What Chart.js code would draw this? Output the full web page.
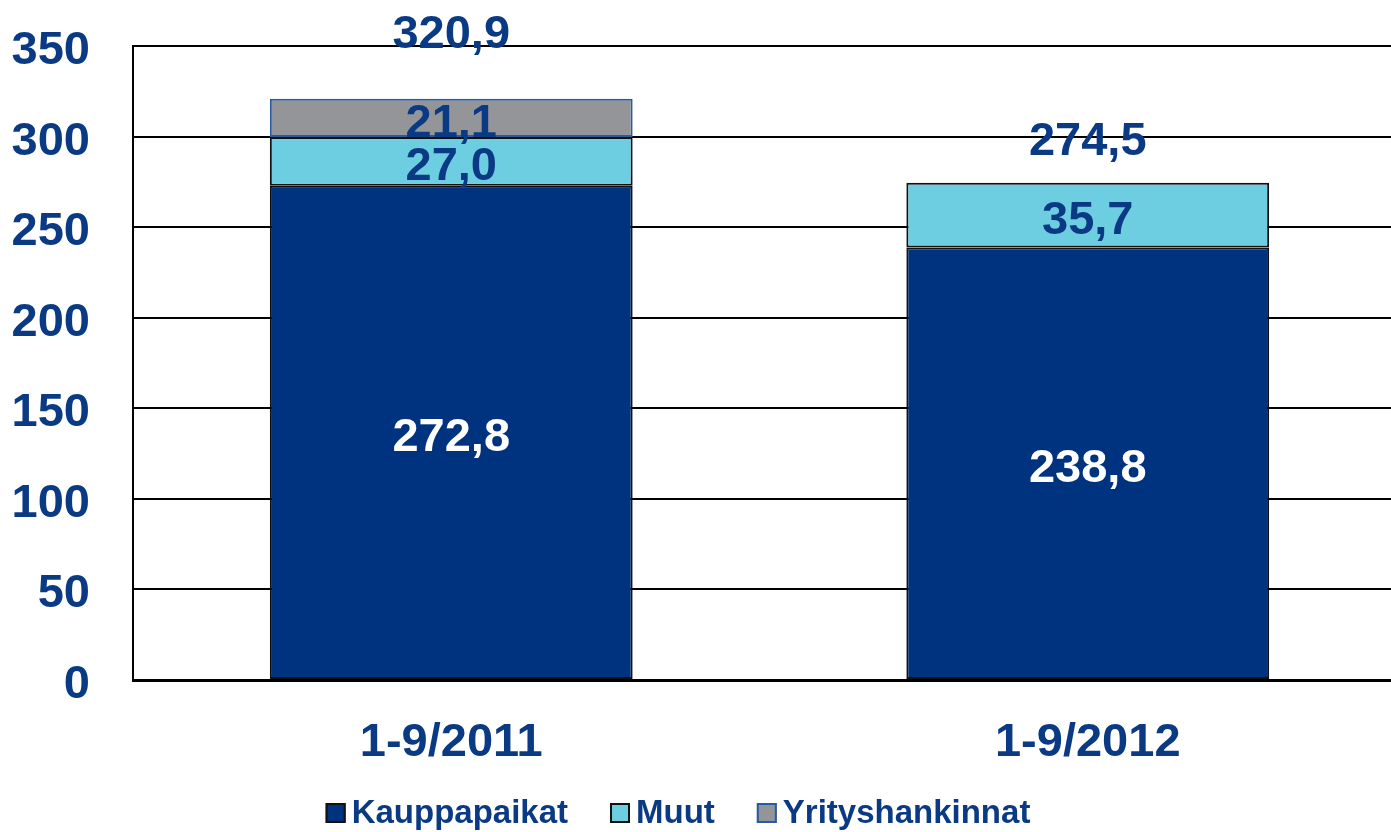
<!DOCTYPE html>
<html>
<head>
<meta charset="utf-8">
<script src="https://cdn.jsdelivr.net/npm/chart.js@4.4.1/dist/chart.umd.min.js"></script>
<style>
  html, body { margin: 0; padding: 0; background: #fff; overflow: hidden; }
</style>
</head>
<body>
<canvas id="chart" width="1406" height="832"></canvas>
<script>
// Data
const categories = ['1-9/2011', '1-9/2012'];
const kauppapaikat = [272.8, 238.8];
const muut = [27.0, 35.7];
const yrityshankinnat = [21.1, null];
const yTicks = [0, 50, 100, 150, 200, 250, 300, 350];

const textBlue = '#0B3A84';
const fontFamily = '"Liberation Sans", Arial, sans-serif';
// how far above the bar top each total sits
const totalOffsets = [64, 41];

const fmt = v => v.toFixed(1).replace('.', ',');

// Values inside segments + totals above the bars
const barLabels = {
  id: 'barLabels',
  afterDatasetsDraw(chart) {
    const ctx = chart.ctx;
    ctx.save();
    ctx.font = 'bold 47px ' + fontFamily;
    ctx.textAlign = 'center';
    ctx.textBaseline = 'middle';

    chart.data.datasets.forEach((ds, i) => {
      chart.getDatasetMeta(i).data.forEach((bar, j) => {
        const v = ds.data[j];
        if (v == null) return;
        const p = bar.getProps(['x', 'y', 'base'], true);
        ctx.fillStyle = i === 0 ? '#fff' : textBlue;
        ctx.fillText(fmt(v), p.x, (p.y + p.base) / 2 + 6);
      });
    });

    const xs = chart.scales.x, ys = chart.scales.y;
    categories.forEach((c, j) => {
      const total = chart.data.datasets.reduce((s, ds) => s + (ds.data[j] || 0), 0);
      ctx.fillStyle = textBlue;
      ctx.fillText(fmt(total), xs.getPixelForValue(j), ys.getPixelForValue(total) - totalOffsets[j]);
    });
    ctx.restore();
  }
};

// Legend drawn by hand so it can sit a bit left of centre like the original
const bottomLegend = {
  id: 'bottomLegend',
  afterDraw(chart) {
    const ctx = chart.ctx;
    ctx.save();
    ctx.font = 'bold 33px ' + fontFamily;
    ctx.textBaseline = 'middle';
    const box = 20, gap = 6, spacing = 42, cy = 813, center = 678;
    const items = chart.data.datasets;
    const widths = items.map(ds => box + gap + ctx.measureText(ds.label).width);
    const full = widths.reduce((a, b) => a + b, 0) + spacing * (items.length - 1);
    let x = center - full / 2;
    items.forEach((ds, i) => {
      ctx.fillStyle = ds.backgroundColor;
      ctx.fillRect(x, cy - box / 2, box, box);
      ctx.lineWidth = 2;
      ctx.strokeStyle = ds.borderColor;
      ctx.strokeRect(x + 1, cy - box / 2 + 1, box - 2, box - 2);
      ctx.fillStyle = textBlue;
      ctx.fillText(ds.label, x + box + gap, cy + 1);
      x += widths[i] + spacing;
    });
    ctx.restore();
  }
};

new Chart(document.getElementById('chart'), {
  type: 'bar',
  data: {
    labels: categories,
    datasets: [
      { label: 'Kauppapaikat', data: kauppapaikat, backgroundColor: '#00337F', borderColor: '#111111', borderWidth: 2 },
      { label: 'Muut', data: muut, backgroundColor: '#6DCDE1', borderColor: '#111111', borderWidth: 2 },
      { label: 'Yrityshankinnat', data: yrityshankinnat, backgroundColor: '#939598', borderColor: '#2A5AA0', borderWidth: 2 }
    ]
  },
  options: {
    responsive: false,
    animation: false,
    layout: { padding: { top: 46, right: 0, left: 0, bottom: 0 } },
    plugins: {
      legend: { display: false },
      tooltip: { enabled: false }
    },
    datasets: {
      bar: { barPercentage: 0.57, categoryPercentage: 1.0, borderSkipped: false }
    },
    scales: {
      x: {
        stacked: true,
        grid: { display: false, drawTicks: false },
        border: { display: true, color: '#000', width: 3 },
        ticks: { color: textBlue, font: { family: fontFamily, size: 47, weight: 'bold' }, padding: 35 },
        afterFit: s => { s.height = 152; }
      },
      y: {
        stacked: true,
        min: 0,
        max: 350,
        afterBuildTicks: s => { s.ticks = yTicks.map(v => ({ value: v })); },
        grid: { color: '#000', lineWidth: 2, drawTicks: false },
        border: { display: true, color: '#000', width: 2 },
        ticks: {
          color: textBlue,
          autoSkip: false,
          font: { family: fontFamily, size: 47, weight: 'bold' },
          padding: 43,
          labelOffset: 5
        },
        // tick padding would otherwise push the plot top down
        afterFit: s => { s.width = 133; s.paddingTop = 0; s.paddingBottom = 0; }
      }
    }
  },
  plugins: [barLabels, bottomLegend]
});
</script>
</body>
</html>
